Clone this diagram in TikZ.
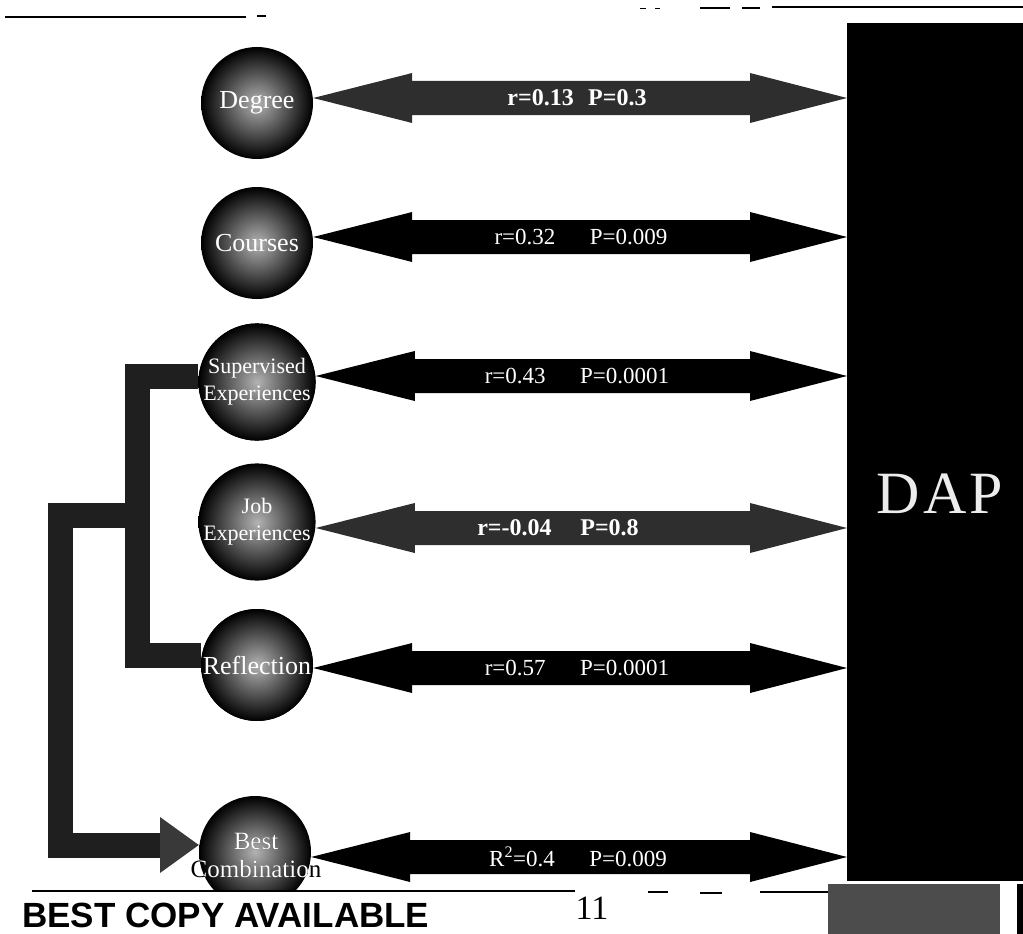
\documentclass[tikz,border=0pt]{standalone}
\usepackage{fontspec}
\setmainfont{Liberation Serif}
\newfontfamily\sansfam{Liberation Sans}
\usetikzlibrary{calc}
\tikzset{
  bubble/.style={circle, minimum size=112pt, inner sep=0pt, inner color=gray!60, outer color=black,
    text=white, align=center, font=\fontsize{22}{27}\selectfont},
  bigword/.style={font=\fontsize{26}{30}\selectfont},
  bubbletext/.style={align=center, inner sep=0pt, font=\fontsize{25}{28}\selectfont},
  lbl/.style={text=white, inner sep=0pt, font=\fontsize{23}{26}\selectfont},
  lblb/.style={text=white, inner sep=0pt, font=\fontsize{24}{26}\selectfont\bfseries},
  bar/.style={line width=25pt, draw=black!88, line join=miter},
  rule/.style={line width=1.6pt, draw=black},
}
% #1 circle node, #2 vertical shift (canvas), #3 label x, #4 label style, #5 fill colour, #6 label text
\newcommand\dblarrow[6]{%
  \fill[#5] let \p1=(#1.east), \p2=(dap.west) in
    (\x1,\y1+#2) -- (\x1+99pt,\y1+#2+25pt) -- (\x1+99pt,\y1+#2+17pt)
    -- (\x2-97pt,\y1+#2+17pt) -- (\x2-97pt,\y1+#2+25pt) -- (\x2,\y1+#2)
    -- (\x2-97pt,\y1+#2-25pt) -- (\x2-97pt,\y1+#2-17pt)
    -- (\x1+99pt,\y1+#2-17pt) -- (\x1+99pt,\y1+#2-25pt) -- cycle
    (#3pt,\y1+#2) node[#4] (#1lbl) {#6};}
\begin{document}
\begin{tikzpicture}[x=1pt,y=-1pt]
\useasboundingbox (0,0) rectangle (1023,934);
\begin{scope}
\clip (0,0) rectangle (1023,934);
% top rules
\draw[rule] (5,17) -- (246,17);
\draw[rule] (257,16) -- (266,16);
\draw[line width=1pt] (640,9) -- (646,9) (655,9) -- (660,9);
\draw[rule] (700,8) -- (730,8) (742,8) -- (760,8);
\draw[rule] (772,7) -- (1023,7);
% DAP box
\node[fill=black, minimum width=176pt, minimum height=858pt, inner sep=0pt, anchor=north west] (dap) at (847,23) {};
\node[text=white!85!gray, inner sep=0pt, font=\fontsize{60}{60}\selectfont] (daptxt) at (940,494) {D\hspace{3pt}A\hspace{3pt}P};
\fill[black!70] (828,884) rectangle (1000,934);
\fill[black] (1017,884) rectangle (1023,934);
% bracket connector corners
\coordinate (bk1) at (137,655);
\coordinate (bk2) at (137,515);
\coordinate (bk3) at (60,845);
\coordinate (bk4) at (160,845);
% circles
\node[bubble, bigword] (deg) at (257,103) {Degree};
\node[bubble, bigword] (crs) at (257,243) {Courses};
\node[bubble] (sup) at (257,382) {Supervised\\Experiences};
\node[bubble] (job) at (257,522) {Job\\Experiences};
\node[bubble, bigword] (ref) at (257,665) {Reflection};
\begin{scope}
\clip (0,0) rectangle (1023,891);
\node[bubble] (best) at (255,852) {};
\end{scope}
% bars
\draw[bar] ([yshift=6pt]sup.west) -| (bk1) -- ([yshift=10pt]ref.west);
\draw[bar] (bk2) -| (bk3) -- (bk4);
\fill[gray!45!black] (160,817) -- ([yshift=7pt]best.west) -- (160,873) -- cycle;
% redraw circles over bars
\node[bubble] at (sup) {Supervised\\Experiences};
\node[bubble, bigword] at (ref) {Reflection};
% double arrows
\dblarrow{deg}{5pt}{577}{lblb}{black!82}{r=0.13\hspace{0.6em}P=0.3}
\dblarrow{crs}{6pt}{581}{lbl}{black}{r=0.32\hspace{1.5em}P=0.009}
\dblarrow{sup}{6pt}{577}{lbl}{black}{r=0.43\hspace{1.5em}P=0.0001}
\dblarrow{job}{-6pt}{558}{lblb}{black!82}{r=-0.04\hspace{1.2em}P=0.8}
\dblarrow{ref}{-3pt}{577}{lbl}{black}{r=0.57\hspace{1.5em}P=0.0001}
\dblarrow{best}{-5pt}{578}{lbl}{black}{R\textsuperscript{2}=0.4\hspace{1.5em}P=0.009}
% best-combination label: dark outside the circle, white inside it
\node[bubbletext, text=black] (besttxt) at (256,855) {Best\\Combination};
\begin{scope}
\clip (best.center) circle (56pt);
\node[bubbletext, text=white] at (besttxt) {Best\\Combination};
\end{scope}
% bottom rules and texts
\draw[rule] (32,891) -- (575,891);
\draw[rule] (648,892) -- (668,892) (700,893) -- (722,893) (760,892) -- (828,892);
\node[inner sep=0pt, font=\fontsize{34}{34}\selectfont] (pgno) at (592,908) {11};
\node[inner sep=0pt, anchor=base west, font=\sansfam\bfseries\fontsize{35}{35}\selectfont] (bestcopy) at (22,927) {BEST COPY AVAILABLE};
\end{scope}
\end{tikzpicture}
\end{document}
